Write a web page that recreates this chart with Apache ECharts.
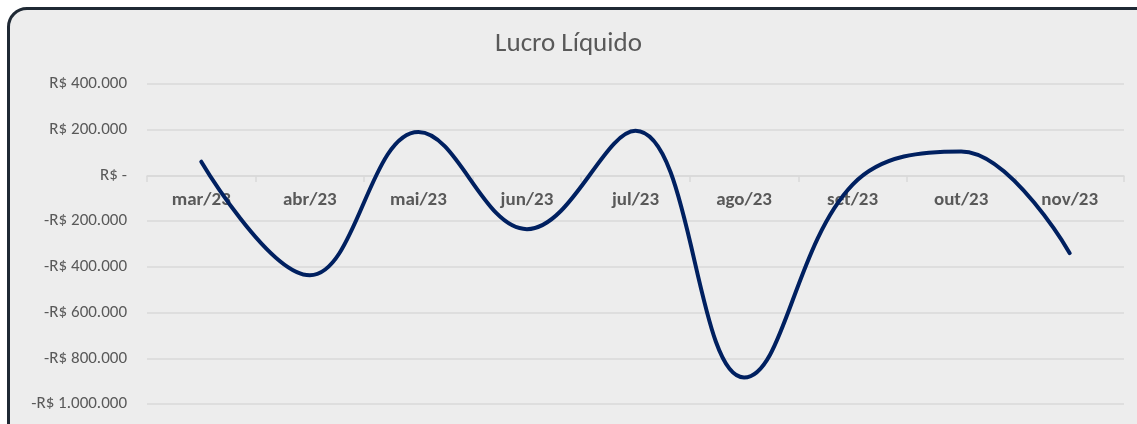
<!DOCTYPE html>
<html>
<head>
<meta charset="utf-8">
<script src="https://cdn.jsdelivr.net/npm/echarts@6/dist/echarts.min.js"></script>
<style>
  body { margin: 0; background: #ffffff; overflow: hidden; }
  #frame {
    position: absolute; left: 7px; top: 7px; width: 1150px; height: 440px;
    border: 3px solid #1f2934; border-radius: 20px; background: #ededed;
  }
  #main { position: absolute; left: 0; top: 0; width: 1137px; height: 424px; }
</style>
</head>
<body>
<div id="frame"></div>
<div id="main"></div>
<script>
var meses = ["mar/23", "abr/23", "mai/23", "jun/23", "jul/23", "ago/23", "set/23", "out/23", "nov/23"];
var lucro = [60000, -437000, 190000, -235000, 195000, -884000, -40000, 105000, -340000];

function moeda(v) {
  if (v === 0) return "R$ -";
  var s = Math.abs(v).toString().replace(/\B(?=(\d{3})+(?!\d))/g, ".");
  return (v < 0 ? "-" : "") + "R$ " + s;
}

var myChart = echarts.init(document.getElementById("main"));
myChart.setOption({
  backgroundColor: "transparent",
  textStyle: { fontFamily: "Carlito, Lato, sans-serif" },
  title: {
    text: "Lucro Líquido",
    left: "center",
    top: 26,
    textStyle: { color: "#595959", fontSize: 27, fontWeight: "normal", fontFamily: "Carlito, Lato, sans-serif" }
  },
  grid: { left: 147, right: 13, top: 84, bottom: 20, outerBoundsMode: "none" },
  xAxis: {
    type: "category",
    data: meses,
    boundaryGap: true,
    position: "bottom",
    offset: -228,
    axisLine: { onZero: false, lineStyle: { color: "#d9d9d9", width: 1.5 } },
    axisTick: { show: true, length: 6, lineStyle: { color: "#d9d9d9", width: 1.5 } },
    axisLabel: { color: "#595959", fontSize: 19, fontWeight: "bold", margin: 15 }
  },
  yAxis: {
    type: "value",
    min: -1000000,
    max: 400000,
    interval: 200000,
    axisLine: { show: false },
    axisTick: { show: false },
    axisLabel: { color: "#595959", fontSize: 17, margin: 20, formatter: moeda },
    splitLine: { lineStyle: { color: "#d9d9d9", width: 1.5 } }
  },
  series: [
    {
      type: "line",
      data: lucro,
      smooth: 0.4,
      symbol: "none",
      z: 3,
      lineStyle: { color: "#002060", width: 4, cap: "round" }
    }
  ]
});
</script>
</body>
</html>
